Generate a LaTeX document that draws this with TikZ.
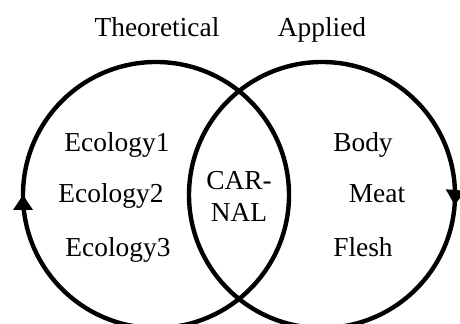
\documentclass[tikz,border=0pt]{standalone}
\usepackage{fontspec}
\setmainfont{Liberation Serif}
\usetikzlibrary{arrows.meta,decorations.markings}
\begin{document}
\begin{tikzpicture}[x=0.5pt, y=0.5pt,
        every node/.style={font=\fontsize{13.7}{16}\selectfont, inner sep=0pt, anchor=base},
        ring/.style={line width=2.2pt},
        tipat/.style={postaction={decorate}, decoration={markings,
            mark=at position #1 with {\arrowreversed{Triangle[width=9.5pt,length=7.5pt]}}}}]
        \useasboundingbox (0,0) rectangle (460,324);
        \coordinate (theo) at (156,129);
        \coordinate (appl) at (322,129);
        \draw[ring, tipat=0.5] (theo) circle[radius=133];
        \draw[ring, tipat=0.988] (appl) circle[radius=133];
        \node (theotitle) at (157,287) {Theoretical};
        \node (appltitle) at (322,287) {Applied};
        \node (eco1) at (117,172) {Ecology1};
        \node (eco2) at (111,121) {Ecology2};
        \node (eco3) at (118,67) {Ecology3};
        \node[align=center] (carnal) at (239,102) {CAR-\\NAL};
        \node (body) at (363,172) {Body};
        \node (meat) at (377,121) {Meat};
        \node (flesh) at (363,67) {Flesh};
    \end{tikzpicture}
\end{document}
